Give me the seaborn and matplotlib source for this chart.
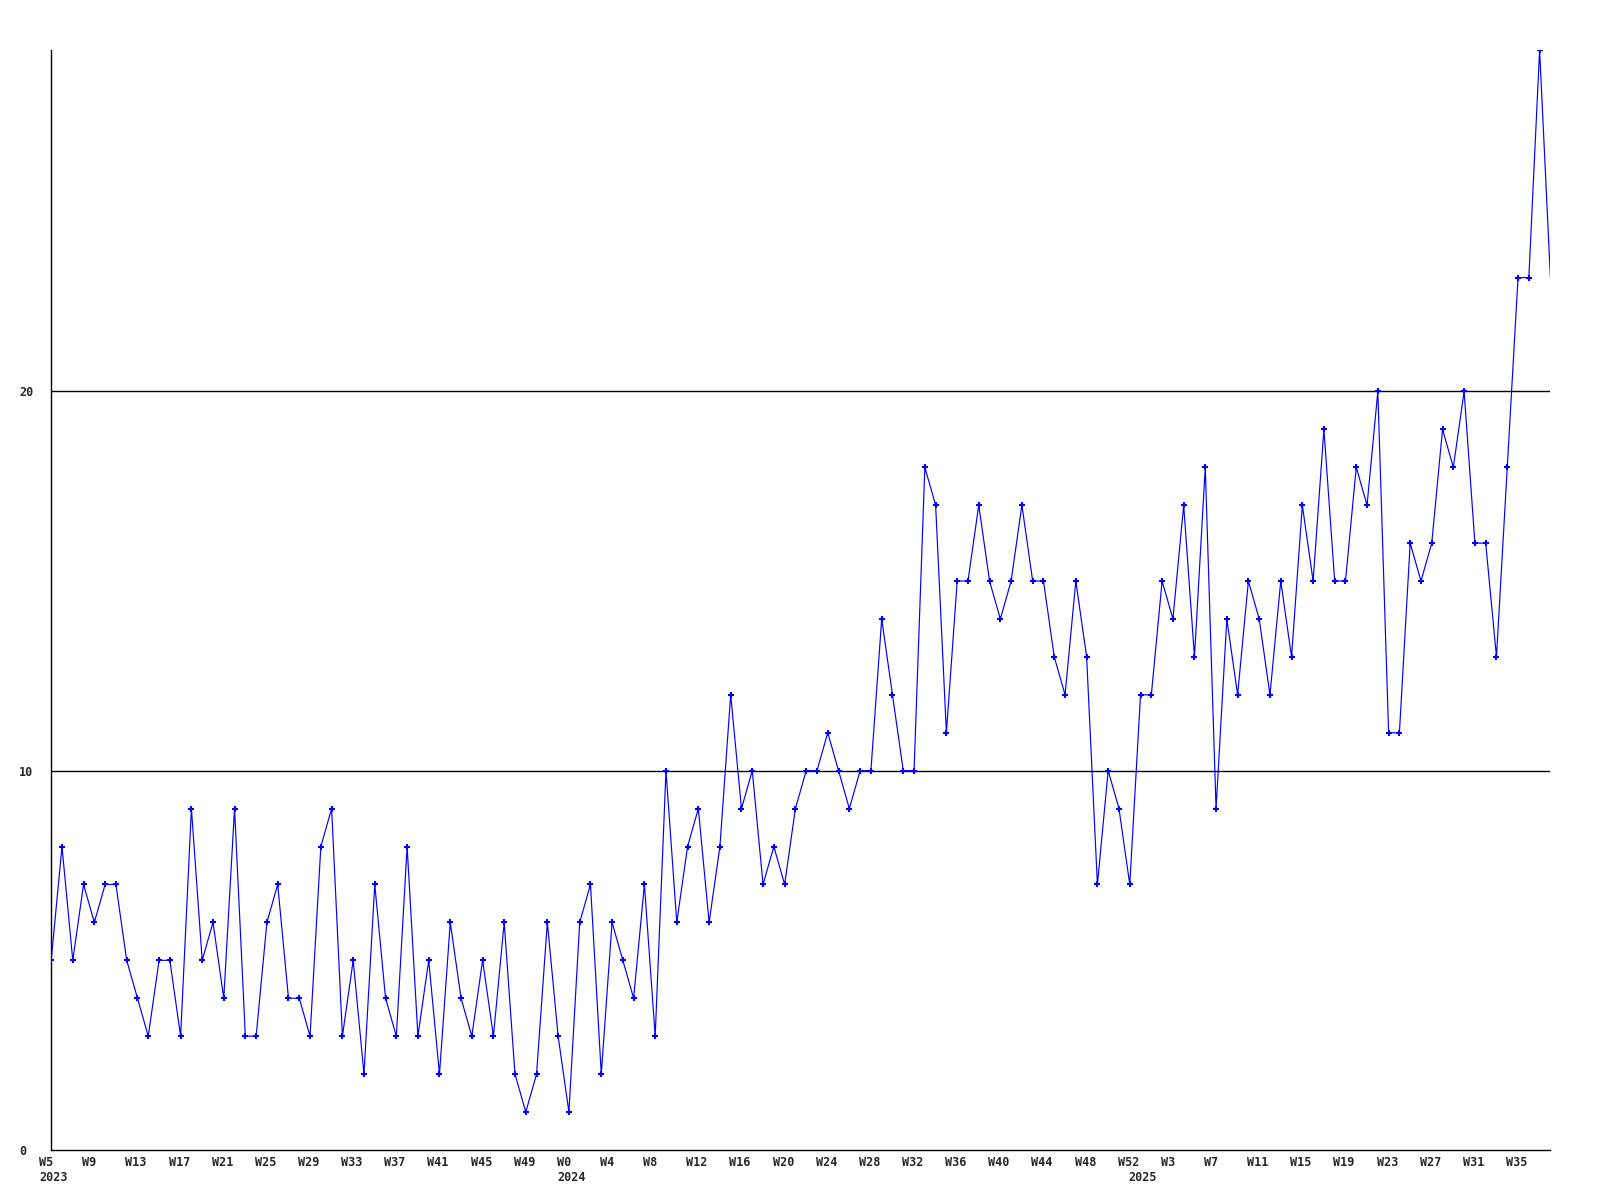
import matplotlib
matplotlib.use('Agg')
import matplotlib.pyplot as plt
import matplotlib.transforms as mtransforms
import seaborn as sns
import pandas as pd

# weekly counts, 2023 W5 .. 2025 W38 (last point runs off the right edge)
counts = [5, 8, 5, 7, 6, 7, 7, 5, 4, 3,
          5, 5, 3, 9, 5, 6, 4, 9, 3, 3,
          6, 7, 4, 4, 3, 8, 9, 3, 5, 2,
          7, 4, 3, 8, 3, 5, 2, 6, 4, 3,
          5, 3, 6, 2, 1, 2, 6, 3, 1, 6,
          7, 2, 6, 5, 4, 7, 3, 10, 6, 8,
          9, 6, 8, 12, 9, 10, 7, 8, 7, 9,
          10, 10, 11, 10, 9, 10, 10, 14, 12, 10,
          10, 18, 17, 11, 15, 15, 17, 15, 14, 15,
          17, 15, 15, 13, 12, 15, 13, 7, 10, 9,
          7, 12, 12, 15, 14, 17, 13, 18, 9, 14,
          12, 15, 14, 12, 15, 13, 17, 15, 19, 15,
          15, 18, 17, 20, 11, 11, 16, 15, 16, 19,
          18, 20, 16, 16, 13, 18, 23, 23, 29, 23]

tick_labels = ['W5', 'W9', 'W13', 'W17', 'W21', 'W25', 'W29', 'W33', 'W37', 'W41', 'W45', 'W49',
               'W0', 'W4', 'W8', 'W12', 'W16', 'W20', 'W24', 'W28', 'W32', 'W36', 'W40', 'W44',
               'W48', 'W52', 'W3', 'W7', 'W11', 'W15', 'W19', 'W23', 'W27', 'W31', 'W35']
years = ['2023', '2024', '2025']
year_starts = [0, 48, 101]

df = pd.DataFrame({'week': range(len(counts)), 'count': counts})

sns.set_style('white')
plt.rcParams['font.family'] = ['DejaVu Sans Mono']
plt.rcParams['font.weight'] = 'bold'

fig = plt.figure(figsize=(16, 12), dpi=100)
ax = fig.add_axes([0.032, 0.0417, 0.937, 0.9166])

# gridlines at 10 and 20
for y in [10, 20]:
    ax.axhline(y, color='black', lw=1, zorder=1)

# the final point sits on the right edge, its marker is not shown
sns.lineplot(data=df, x='week', y='count', ax=ax, color='#0000ff', lw=0.85,
             marker='+', markersize=5, markeredgewidth=1.5,
             markeredgecolor='#0000ff', markevery=list(range(len(counts) - 1)),
             zorder=3)

ax.set_xlim(0, 139)
ax.set_ylim(0, 29)
ax.set_xlabel('')
ax.set_ylabel('')

ax.set_yticks([0, 10, 20])
ax.set_xticks(range(0, 137, 4))
ax.set_xticklabels(tick_labels, ha='left')
ax.tick_params(length=0, labelsize=8.5)
ax.tick_params(axis='x', pad=4.3)
ax.tick_params(axis='y', pad=23)
for lbl in ax.get_yticklabels():
    lbl.set_ha('left')

# labels start a bit left of their tick
offset = mtransforms.ScaledTranslation(-12 / 100, 0, fig.dpi_scale_trans)
for lbl in ax.get_xticklabels():
    lbl.set_transform(lbl.get_transform() + offset)

for yr, pos in zip(years, year_starts):
    ax.annotate(yr, xy=(pos, 0), xycoords=('data', 'axes fraction'),
                xytext=(-8.6, -15.5), textcoords='offset points',
                ha='left', va='top', fontsize=8.5, fontweight='bold')

sns.despine(ax=ax, top=True, right=True)
for side in ['left', 'bottom']:
    ax.spines[side].set_color('black')
    ax.spines[side].set_linewidth(1)

fig.savefig('out.png', dpi=100)
